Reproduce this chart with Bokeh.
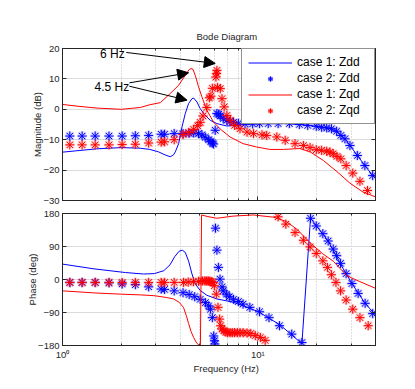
from bokeh.plotting import figure
from bokeh.layouts import column
from bokeh.models import (Range1d, FixedTicker, LinearAxis, LogAxis, Legend, LegendItem,
                          Arrow, NormalHead, Label, Title)
from bokeh.embed import file_html
from bokeh.resources import INLINE

# ---------------- data ----------------
# case 1: Zdd (blue line)
zdd1_mag_f = [1.0, 1.2, 1.5, 2.0, 2.5, 2.8, 3.1, 3.35, 3.56, 3.7, 3.78, 3.93, 4.09, 4.25, 4.42,
              4.6, 4.69, 4.88, 5.07, 5.38, 5.7, 6.17, 6.94, 7.8, 9.0, 11.0, 14.0, 17.0, 20.0, 23.0,
              25.3, 26.6, 27.9, 29.6, 32.3, 35.3, 38.7, 40.0]
zdd1_mag = [-14.1, -13.6, -13.0, -12.6, -12.8, -13.2, -14.0, -15.0, -15.6, -15.0, -14.0, -11.3, -5.8,
            -1.4, 1.9, 3.5, 3.7, 2.4, 0.2, -2.0, -3.6, -4.7, -5.5, -5.2, -4.9, -4.7, -4.7, -5.1, -5.6,
            -6.2, -7.2, -8.6, -9.7, -11.9, -15.2, -18.5, -21.8, -22.5]
zdd1_ph_f = [1.0, 1.45, 2.1, 2.6, 2.95, 3.3, 3.55, 3.75, 3.95, 4.1, 4.25, 4.42, 4.6, 4.78, 5.07,
             5.48, 6.17, 7.5, 10.0, 13.0, 16.8, 18.6, 20.0, 22.9, 27.3, 30.3, 35.4, 40.0]
zdd1_ph = [42, 29, 19, 15, 16, 24, 40, 62, 77, 80, 74, 50, 15, -12, -30,
           -43, -53, -62, -87, -124, -175, 167, 146, 105, 30, -11, -65, -97]

# case 2: Zdd (blue stars)
zdd2_mag_f = [1.09, 1.26, 1.47, 1.73, 2.02, 2.36, 2.76, 3.2, 3.33, 3.73, 4.14, 4.45, 4.69, 4.97, 5.17,
              5.38, 5.6, 5.75, 5.85, 5.93, 6.05, 6.17, 6.3, 6.42, 6.65, 6.94, 7.2, 7.5, 7.95, 8.6,
              9.4, 10.2, 11.3, 12.7, 14.5, 16.3, 18.0, 19.9, 21.2, 22.5, 23.8, 25.3, 26.6, 27.9, 29.6,
              32.3, 35.3, 38.7]
zdd2_mag = [-8.8, -8.8, -8.8, -8.8, -8.8, -8.7, -8.6, -8.2, -8.2, -8.0, -8.0, -7.9, -7.8, -8.0, -8.4,
            -9.2, -10.0, -10.6, -11.1, -11.4, -6.9, -1.4, -1.6, -2.2, -3.0, -3.6, -4.0, -4.3, -4.6, -4.8,
            -4.8, -4.7, -4.7, -4.7, -4.7, -5.0, -5.3, -5.6, -5.9, -6.1, -6.4, -7.2, -8.6, -9.7, -11.9,
            -15.2, -18.5, -21.8]
zdd2_ph_f = [1.09, 1.26, 1.47, 1.73, 2.02, 2.36, 2.76, 3.2, 3.33, 3.73, 4.14, 4.45, 4.75, 5.07, 5.39,
             5.6, 5.72, 5.85, 5.94, 6.0, 6.02, 6.07, 6.17, 6.28, 6.4, 6.55, 6.65, 6.9, 7.14, 7.5,
             7.95, 8.4, 9.1, 10.2, 11.4, 12.9, 14.9, 16.8, 18.6, 19.9, 21.5, 22.9, 24.3, 25.3, 26.5,
             28.3, 30.3, 32.6, 35.4, 38.7]
zdd2_ph = [-8, -8, -8, -9, -12, -14, -20, -26, -27, -31, -36, -41, -47, -54, -63,
           -72, -81, -104, -154, -167, -176, 140, 80, 33, 1, -20, -31, -40, -47, -54,
           -60, -67, -76, -88, -104, -126, -149, -172, 167, 146, 125, 105, 83, 65, 44,
           16, -11, -38, -65, -93]

# case 1: Zqd (red line)
zqd1_mag_f = [1.0, 1.2, 1.5, 2.0, 2.5, 2.8, 3.17, 3.56, 3.93, 4.25, 4.45, 4.55, 4.65, 4.78, 4.97,
              5.17, 5.48, 5.93, 6.42, 7.2, 8.4, 9.85, 11.5, 13.5, 16.4, 18.5, 21.6, 25.4, 29.6, 34.5, 40.0]
zqd1_mag = [1.6, 1.0, 0.4, 0.0, 0.6, 1.5, 2.2, 5.2, 7.9, 11.2, 13.1, 13.4, 13.2, 11.2, 7.4,
            4.1, -0.3, -4.2, -6.5, -9.1, -11.3, -12.4, -13.2, -13.2, -12.9, -14.0, -16.8, -20.5, -24.3, -27.2, -28.8]
zqd1_ph_f = [1.0, 1.5, 2.0, 2.5, 2.93, 3.4, 3.7, 3.95, 4.16, 4.3, 4.42, 4.55, 4.69, 4.82, 4.95,
             5.08, 5.15, 5.5, 6.17, 7.5, 9.5, 12.0, 14.0, 16.0, 18.5, 21.5, 24.3, 28.6, 33.0, 40.0]
zqd1_ph = [-31, -37, -40, -42, -44, -49, -53, -62, -76, -98, -120, -142, -158, -170, -178,
           -180, 176, 172, 167, 173, 176, 170, 158, 135, 100, 70, 50, 10, -5, -24]

# case 2: Zqd (red stars)
zqd2_mag_f = [1.09, 1.26, 1.47, 1.73, 2.02, 2.36, 2.76, 3.2, 3.33, 3.73, 4.14, 4.42, 4.69, 4.92, 5.07,
              5.24, 5.48, 5.65, 5.75, 5.85, 6.1, 6.15, 6.17, 6.22, 6.42, 6.55, 6.72, 6.94, 7.23, 7.6,
              8.1, 8.8, 9.5, 10.5, 11.1, 12.5, 13.8, 15.5, 17.1, 18.5, 19.9, 21.2, 22.5, 23.4, 24.3,
              25.4, 26.6, 28.3, 30.6, 33.3, 36.4]
zqd2_mag = [-11.7, -11.7, -11.7, -11.7, -11.6, -11.5, -11.1, -10.8, -10.7, -10.0, -8.3, -7.6, -6.6, -5.4, -4.3,
            -2.2, 0.6, 3.8, 4.3, 6.9, 10.6, 11.8, 12.8, 7.2, 6.8, 3.5, 0.8, -2.0, -3.6, -5.3,
            -6.4, -7.5, -8.0, -8.4, -8.6, -9.1, -10.2, -11.3, -11.9, -12.6, -13.3, -13.5, -13.8, -14.1, -14.6,
            -15.5, -16.3, -18.5, -21.0, -23.7, -26.7]
zqd2_ph_f = [1.09, 1.26, 1.47, 1.73, 2.02, 2.36, 2.76, 3.2, 3.33, 3.73, 4.16, 4.4, 4.68, 4.97, 5.2,
             5.35, 5.47, 5.58, 5.68, 5.8, 5.89, 5.99, 6.13, 6.25, 6.37, 6.45, 6.55, 6.7, 6.85, 7.0,
             7.2, 7.4, 7.6, 7.85, 8.1, 8.4, 8.8, 9.2, 9.7, 10.3, 10.9, 12.7, 13.9, 15.5, 17.1,
             18.5, 19.9, 21.5, 22.7, 23.8, 25.1, 26.5, 28.3, 30.6, 33.3, 36.7]
zqd2_ph = [-8, -8, -8, -8, -8, -8, -8, -8, -8, -8, -8, -7, -6, -5, -4,
           -4, -4, -4, -5, -6, -8, -17, -40, -76, -108, -126, -135, -140, -143, -145,
           -145, -145, -145, -145, -145, -145, -146, -147, -153, -158, -166, 171, 151, 128, 107,
           89, 71, 51, 33, 13, -8, -31, -56, -81, -104, -126]

series_labels = ["case 1: Zdd", "case 2: Zdd", "case 1: Zqd", "case 2: Zqd"]
mag_ticks = [-30, -20, -10, 0, 10, 20]
ph_ticks = [-180, -90, 0, 90, 180]
x_major = [1, 10]
x_minor = [2, 3, 4, 5, 6, 7, 8, 9, 20, 30, 40]

# ---------------- style ----------------
FONT = "Liberation Sans"
BLUE = "#0000ff"
RED = "#ff0000"
AXC = "#262626"


def style_axis(ax, show_labels, ticks):
    ax.major_tick_in = 4
    ax.major_tick_out = 0
    ax.minor_tick_in = 2
    ax.minor_tick_out = 0
    ax.axis_line_color = AXC
    ax.major_tick_line_color = AXC
    ax.minor_tick_line_color = AXC
    ax.major_label_text_font = FONT
    ax.major_label_text_color = AXC
    ax.axis_label_text_font = FONT
    ax.axis_label_text_font_style = "normal"
    ax.axis_label_text_font_size = "9.5px"
    ax.axis_label_text_color = AXC
    ax.axis_label_standoff = -3
    if show_labels:
        ax.major_label_text_font_size = "9.5px"
        ax.major_label_standoff = 3
    else:
        ax.major_label_text_font_size = "1px"
        ax.major_label_standoff = 0
        ax.major_label_overrides = {t: "" for t in ticks}


def make_fig(y0, y1, yticks, frame_h, b_top, b_bottom, show_x_labels):
    p = figure(x_axis_type="log", x_range=Range1d(1, 40), y_range=Range1d(y0, y1),
               frame_width=313, frame_height=frame_h,
               min_border_left=62, min_border_right=32,
               min_border_top=b_top, min_border_bottom=b_bottom,
               output_backend="svg", toolbar_location=None,
               background_fill_color="white", border_fill_color="white")
    p.add_layout(LogAxis(), "above")
    p.add_layout(LinearAxis(), "right")
    xt = FixedTicker(ticks=x_major, minor_ticks=x_minor)
    for ax in p.xaxis:
        ax.ticker = xt
    for ax in p.yaxis:
        ax.ticker = FixedTicker(ticks=yticks)
    style_axis(p.below[0], show_x_labels, x_major)
    style_axis(p.above[0], False, x_major)
    style_axis(p.left[0], True, yticks)
    style_axis(p.right[0], False, yticks)
    p.outline_line_color = AXC
    p.outline_line_width = 1
    p.xgrid.grid_line_color = "#dcdcdc"
    p.xgrid.minor_grid_line_color = "#bdbdbd"
    p.xgrid.minor_grid_line_dash = "1 2"
    p.ygrid.grid_line_color = "#dcdcdc"
    return p


def stars(p, xs, ys, color):
    halo = p.scatter(xs, ys, marker="asterisk", size=10, line_color=color, line_width=2.6, line_alpha=0.2)
    core = p.scatter(xs, ys, marker="asterisk", size=9, line_color=color, line_width=1.0)
    return [halo, core]


# ---------------- magnitude ----------------
p1 = make_fig(-30, 20, mag_ticks, 152, 48, 6, False)
p1.left[0].axis_label = "Magnitude (dB)"
p1.title.text = "Bode Diagram"
p1.title.align = "left"
p1.title.offset = 134
p1.title.standoff = 14
p1.title.text_font = FONT
p1.title.text_font_size = "9.5px"
p1.title.text_font_style = "normal"
p1.title.text_color = AXC

r1 = p1.line(zdd1_mag_f, zdd1_mag, line_color=BLUE, line_width=1)
r2 = stars(p1, zdd2_mag_f, zdd2_mag, BLUE)
r3 = p1.line(zqd1_mag_f, zqd1_mag, line_color=RED, line_width=1)
r4 = stars(p1, zqd2_mag_f, zqd2_mag, RED)

legend = Legend(items=[LegendItem(label=series_labels[0], renderers=[r1]),
                       LegendItem(label=series_labels[1], renderers=r2),
                       LegendItem(label=series_labels[2], renderers=[r3]),
                       LegendItem(label=series_labels[3], renderers=r4)],
                location="top_right", margin=0, padding=6, spacing=2,
                glyph_width=44, glyph_height=13, label_height=13, label_width=71, label_standoff=5,
                label_text_font=FONT, label_text_font_size="12px", label_text_color="black",
                label_text_baseline="middle",
                border_line_color=AXC, border_line_width=1, background_fill_alpha=1)
p1.add_layout(legend)

# annotations
for (xs, ys, xe, ye) in [(2.12, 18.7, 6.05, 15.1), (2.2, 8.7, 4.42, 12.0), (2.2, 7.6, 4.34, 3.0)]:
    p1.add_layout(Arrow(end=NormalHead(size=11, fill_color="black", line_color="black", line_width=1),
                        x_start=xs, y_start=ys, x_end=xe, y_end=ye, line_color="black", line_width=1))
p1.add_layout(Label(x=1.80, y=18.05, text="6 Hz", text_align="center", text_baseline="middle",
                    text_font=FONT, text_font_size="12px", text_color="black"))
p1.add_layout(Label(x=1.79, y=7.4, text="4.5 Hz", text_align="center", text_baseline="middle",
                    text_font=FONT, text_font_size="12px", text_color="black"))

# ---------------- phase ----------------
p2 = make_fig(-180, 180, ph_ticks, 132, 7, 24, True)
p2.left[0].axis_label = "Phase (deg)"
p2.below[0].major_label_overrides = {1: "10\u2070", 10: "10\u00b9"}
p2.add_layout(Title(text="Frequency  (Hz)", align="left", offset=131, standoff=0,
                    vertical_align="top", text_font=FONT,
                    text_font_size="9.5px", text_font_style="normal", text_color=AXC), "below")

p2.line(zdd1_ph_f, zdd1_ph, line_color=BLUE, line_width=1)
stars(p2, zdd2_ph_f, zdd2_ph, BLUE)
p2.line(zqd1_ph_f, zqd1_ph, line_color=RED, line_width=1)
stars(p2, zqd2_ph_f, zqd2_ph, RED)

layout = column(p1, p2, spacing=0)
open("out.html", "w").write(file_html(layout, INLINE))
